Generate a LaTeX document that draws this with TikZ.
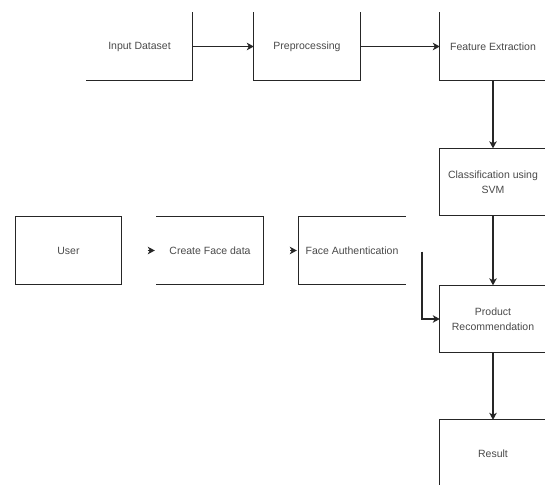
\documentclass[tikz,border=0pt]{standalone}
\usepackage{fontspec}
\setmainfont{Liberation Sans}
\usetikzlibrary{arrows.meta}
\definecolor{linec}{HTML}{262626}
\definecolor{textc}{HTML}{4A4A4A}
\begin{document}
\begin{tikzpicture}[x=1pt,y=-1pt,
  box/.style={minimum width=106pt,minimum height=67pt,inner sep=0pt,align=center,
    text=textc,font=\fontsize{10.5pt}{15pt}\selectfont},
  edge/.style={draw=linec,line width=1.1pt,line cap=rect},
  arr/.style={draw=linec,line width=1.1pt,-{Stealth[length=7pt,width=7.5pt,inset=2pt]}}]
\useasboundingbox[fill=white] (0,0) rectangle (545,484);
% nodes
\node[box] (inp) at (139.5,46.5) {Input Dataset};
\node[box] (pre) at (307,46.5) {Preprocessing};
\node[box] (fe) at (493,46.5) {Feature Extraction};
\node[box] (cl) at (493,182) {Classification using\\SVM};
\node[box] (pr) at (493,319) {Product\\Recommendation};
\node[box] (re) at (493,453.5) {Result};
\node[box] (us) at (68.5,250.5) {User};
\node[box] (cr) at (210,250.5) {Create Face data};
\node[box] (fa) at (352,250.5) {Face Authentication};
% visible box edges
\draw[edge] (inp.north east) -- (inp.south east) -- (inp.south west);
\draw[edge] (pre.north west) -- (pre.south west) -- (pre.south east) -- (pre.north east);
\draw[edge] (fe.north west) -- (fe.south west) -- (fe.south east);
\draw[edge] (cl.north east) -- (cl.north west) -- (cl.south west) -- (cl.south east);
\draw[edge] (pr.north east) -- (pr.north west) -- (pr.south west) -- (pr.south east);
\draw[edge] (re.north east) -- (re.north west) -- (re.south west);
\draw[edge] (us.north west) rectangle (us.south east);
\draw[edge] (cr.north west) -- (cr.north east) -- (cr.south east) -- (cr.south west);
\draw[edge] (fa.north east) -- (fa.north west) -- (fa.south west) -- (fa.south east);
% connectors
\draw[arr] (inp.east) -- (pre.west);
\draw[arr] (pre.east) -- (fe.west);
\draw[arr] (fe.south) -- (cl.north);
\draw[arr] (cl.south) -- (pr.north);
\draw[arr] (pr.south) -- (re.north);
\draw[arr,shorten <=26pt,shorten >=2pt] (us.east) -- (cr.west);
\draw[arr,shorten <=27pt,shorten >=2pt] (cr.east) -- (fa.west);
\coordinate (fb) at (422,251.5);
\draw[arr] (fb) |- (pr.west);
\end{tikzpicture}
\end{document}
